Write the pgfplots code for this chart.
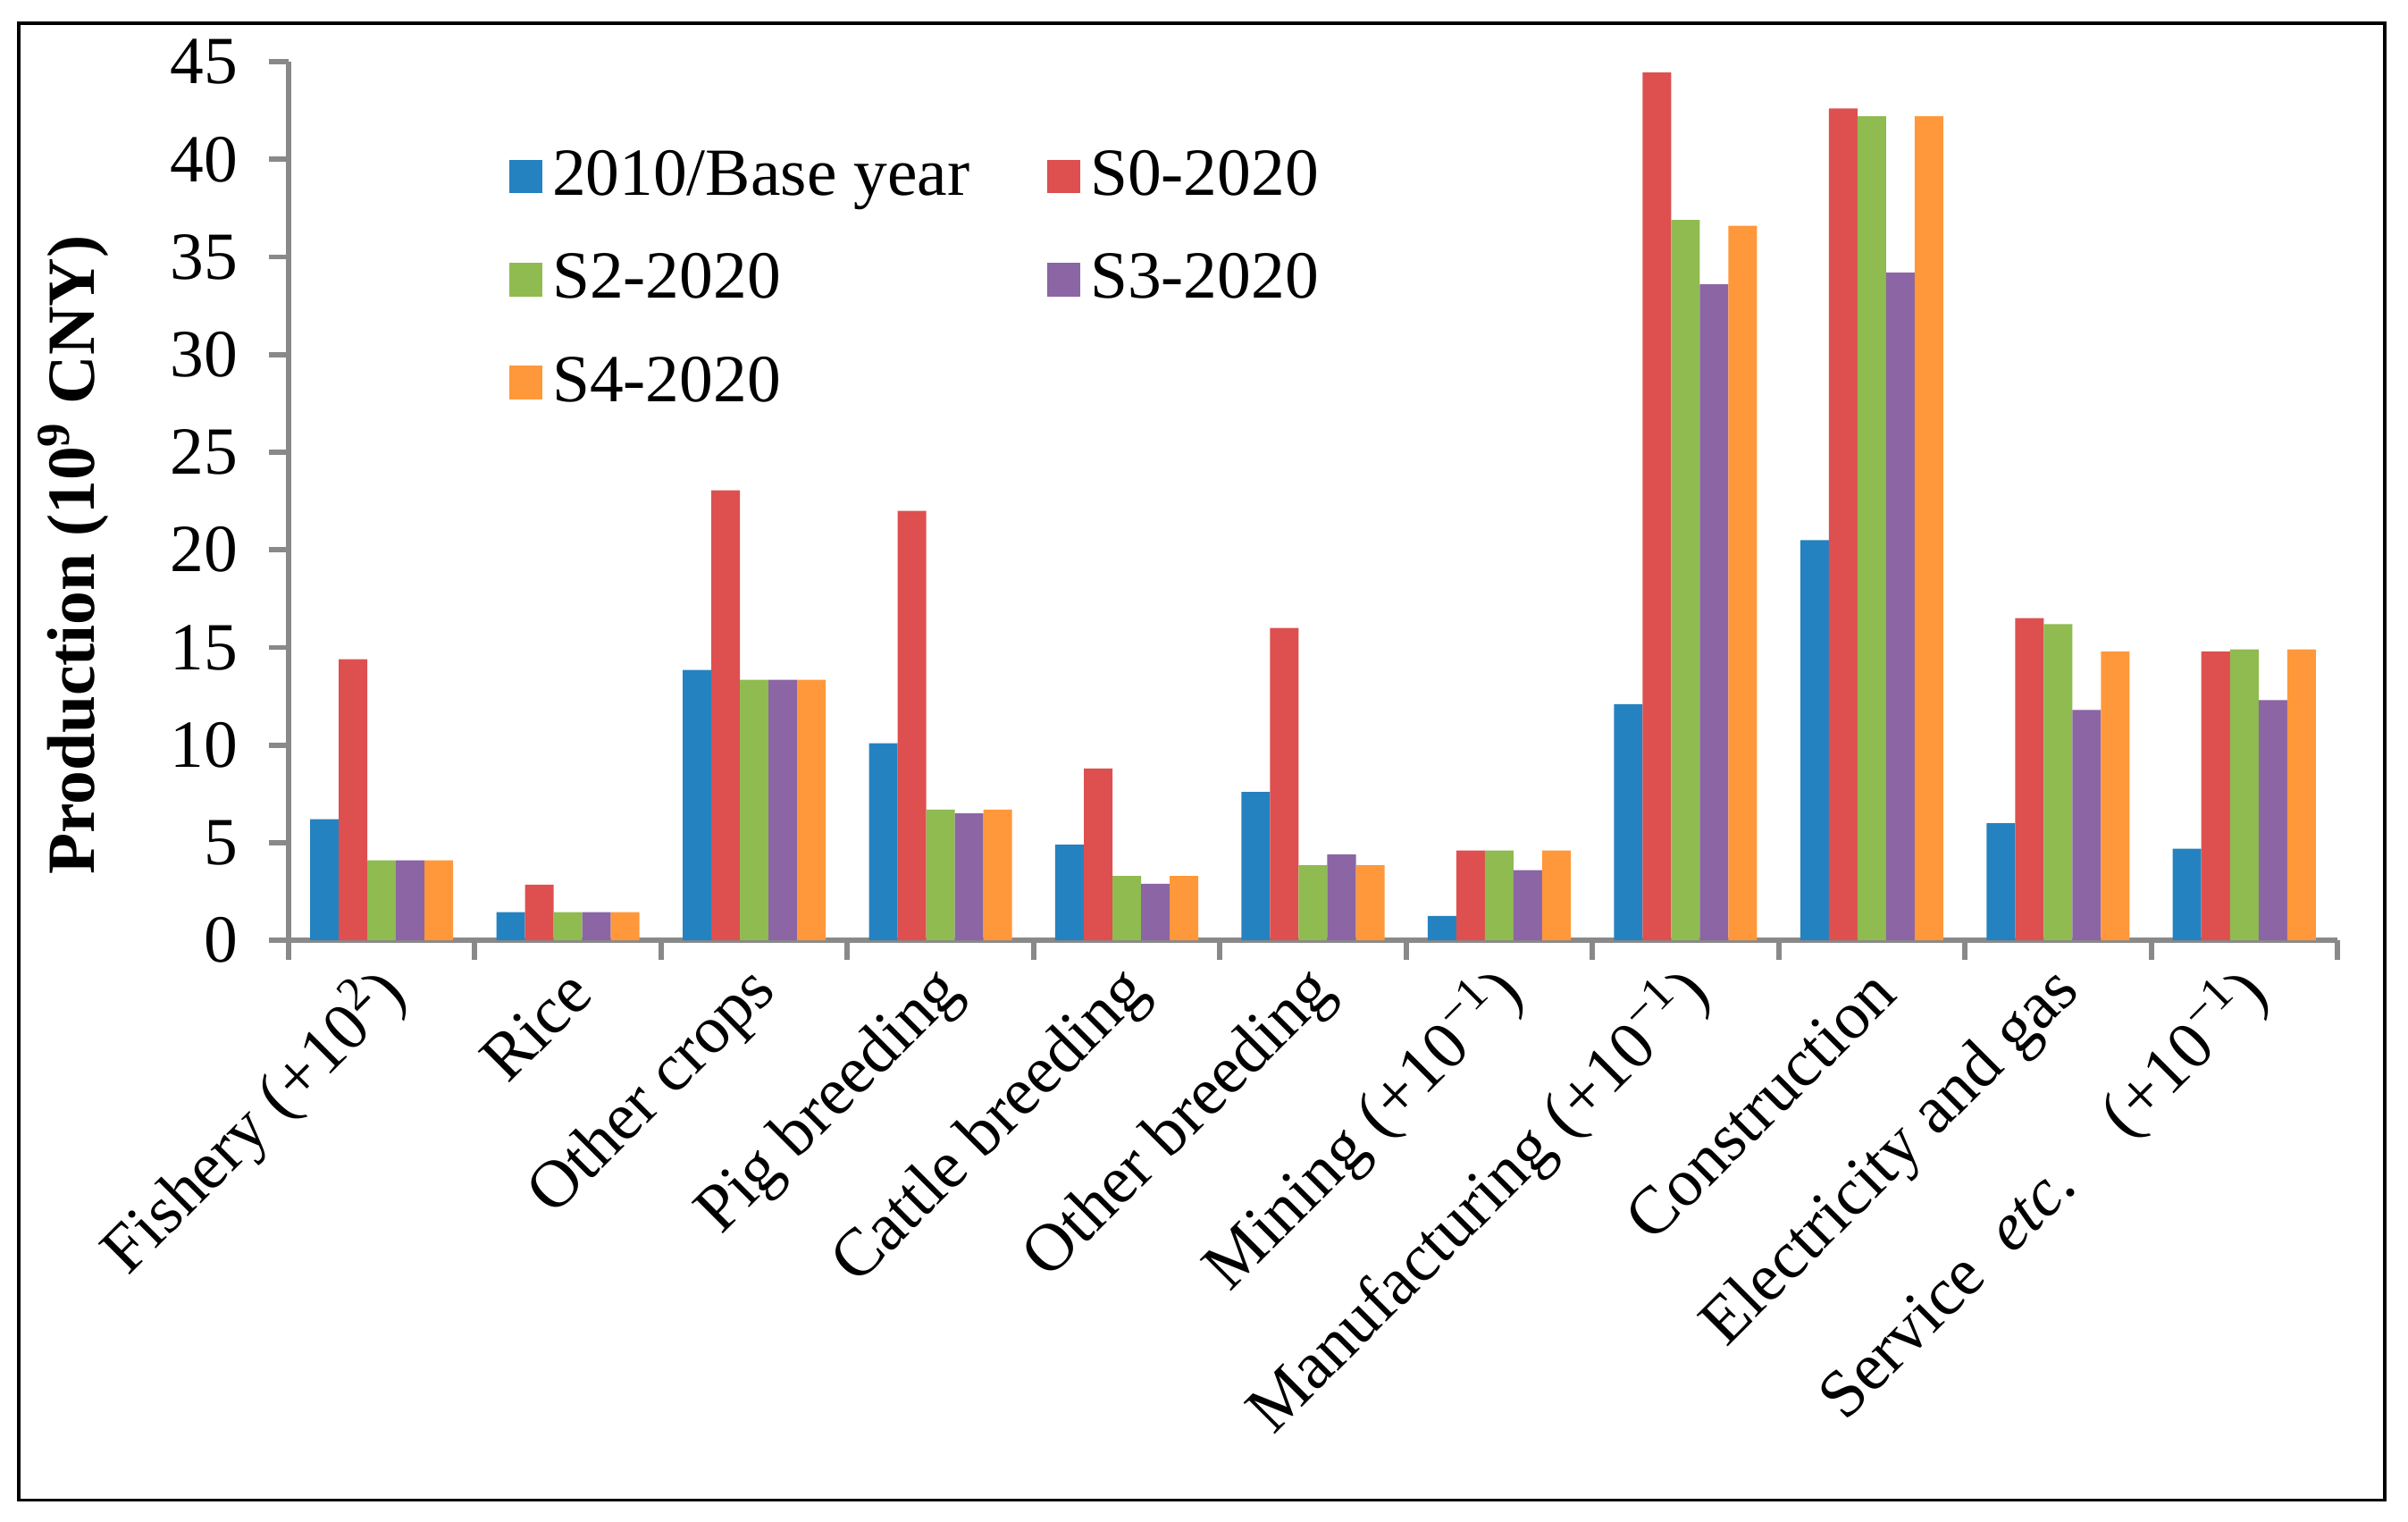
\documentclass[border=0pt]{standalone}
\usepackage{fontspec}
\setmainfont{Liberation Serif}
\usepackage{pgfplots}
\pgfplotsset{compat=1.18}
\definecolor{cBlue}{HTML}{2582C0}
\definecolor{cRed}{HTML}{DD504F}
\definecolor{cGreen}{HTML}{8FBB50}
\definecolor{cPurple}{HTML}{8B65A4}
\definecolor{cOrange}{HTML}{FF983A}
\definecolor{axisgray}{HTML}{898989}
\begin{document}
\begin{tikzpicture}
\begin{axis}[
  scale only axis,
  width=425.4pt, height=182.4pt,
  xmin=-0.5, xmax=10.5,
  ymin=0, ymax=45,
  ytick={0,5,...,45},
  xtick={0,1,...,10},
  minor xtick={-0.5,0.5,...,10.5},
  xticklabels={{Fishery (+10\textsuperscript{2})}, Rice, Other crops, Pig breeding, Cattle breeding, Other breeding, {Mining (+10\textsuperscript{−1})}, {Manufacturing (+10\textsuperscript{−1})}, Construction, Electricity and gas, {Service \ \textit{etc.}\ \ \ \ (+10\textsuperscript{−1})}},
  axis lines*=left,
  axis line style={-, draw=axisgray, line width=1.1pt},
  every outer x axis line/.append style={-},
  every outer y axis line/.append style={-},
  tick align=outside,
  major tick length=4pt,
  minor tick length=4pt,
  major x tick style={draw=none},
  minor x tick style={draw=axisgray, line width=1.1pt},
  major y tick style={draw=axisgray, line width=1.1pt},
  /pgf/number format/assume math mode=true,
  tick label style={font=\fontsize{14pt}{16pt}\selectfont},
  yticklabel style={xshift=-3pt},
  xticklabel style={rotate=45, anchor=east, xshift=2pt, yshift=-5pt},
  ylabel={\textbf{Production (10\textsuperscript{9} CNY)}},
  ylabel style={font=\fontsize{14pt}{16pt}\selectfont, at={(axis description cs:-0.105,0.4385)}, anchor=center},
  ybar=0pt,
  bar width=5.94pt,
  clip=false,
  legend columns=2,
  legend cell align=left,
  legend style={draw=none, fill=none, at={(axis description cs:0.100,0.922)}, anchor=north west,
    font=\fontsize{14pt}{16pt}\selectfont, row sep=6.6pt,
    /tikz/every even column/.append style={column sep=14pt}},
  legend image code/.code={\fill[#1] (0pt,-3.5pt) rectangle (7pt,3.5pt);},
]
\addplot[fill=cBlue, draw=none] coordinates {(0,6.2) (1,1.45) (2,13.85) (3,10.1) (4,4.9) (5,7.6) (6,1.25) (7,12.1) (8,20.5) (9,6.0) (10,4.7)};
\addplot[fill=cRed, draw=none] coordinates {(0,14.4) (1,2.85) (2,23.05) (3,22.0) (4,8.8) (5,16.0) (6,4.6) (7,44.45) (8,42.6) (9,16.5) (10,14.8)};
\addplot[fill=cGreen, draw=none] coordinates {(0,4.1) (1,1.45) (2,13.35) (3,6.7) (4,3.3) (5,3.85) (6,4.6) (7,36.9) (8,42.2) (9,16.2) (10,14.9)};
\addplot[fill=cPurple, draw=none] coordinates {(0,4.1) (1,1.45) (2,13.35) (3,6.5) (4,2.9) (5,4.4) (6,3.6) (7,33.6) (8,34.2) (9,11.8) (10,12.3)};
\addplot[fill=cOrange, draw=none] coordinates {(0,4.1) (1,1.45) (2,13.35) (3,6.7) (4,3.3) (5,3.85) (6,4.6) (7,36.6) (8,42.2) (9,14.8) (10,14.9)};
\legend{2010/Base year, S0-2020, S2-2020, S3-2020, S4-2020}
\coordinate (bbA) at (rel axis cs:-0.14086,-0.6612);
\coordinate (bbB) at (rel axis cs:1.03445,1.0702);
\draw[black, line width=0.6pt] (rel axis cs:-0.1317,-0.6368) rectangle (rel axis cs:1.0231,1.0437);
\end{axis}
\pgfresetboundingbox
\path[use as bounding box] (bbA) rectangle (bbB);
\end{tikzpicture}
\end{document}
